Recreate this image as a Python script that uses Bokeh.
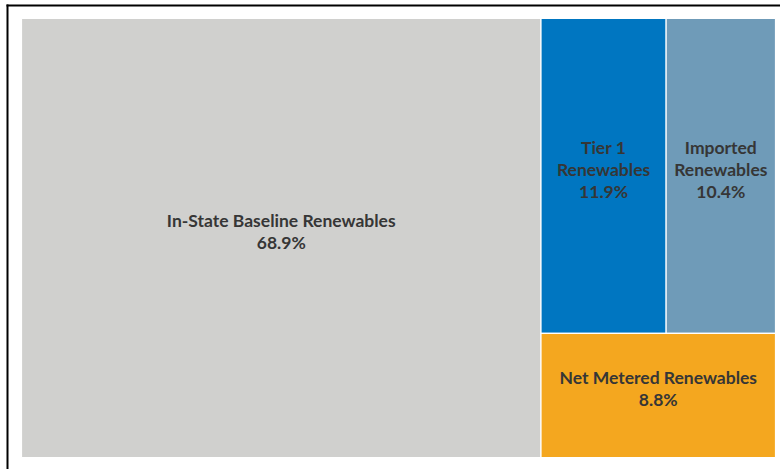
from bokeh.plotting import figure
from bokeh.models import Range1d, ColumnDataSource
from bokeh.core.properties import value
from bokeh.embed import file_html
from bokeh.resources import INLINE

# ---- data ----
categories = ["In-State Baseline Renewables", "Tier 1 Renewables",
              "Imported Renewables", "Net Metered Renewables"]
label_lines = [["In-State Baseline Renewables"], ["Tier 1", "Renewables"],
               ["Imported", "Renewables"], ["Net Metered Renewables"]]
shares = [68.9, 11.9, 10.4, 8.8]
colors = ["#d0d0ce", "#0076c1", "#6f9bb8", "#f4a71f"]

# ---- layout (screen-like coordinates, y grows downward) ----
X0, Y0, W, H = 21.0, 18.0, 754.0, 439.0


def worst(row, side):
    s = sum(row)
    return max(max(side * side * r / (s * s), (s * s) / (side * side * r)) for r in row)


def squarify(vals, x, y, w, h, limit=3.0):
    total = sum(vals)
    areas = [v / total * w * h for v in vals]
    rects = []
    while areas:
        side = min(w, h)
        row = [areas[0]]
        i = 1
        while i < len(areas) and worst(row + [areas[i]], side) <= limit:
            row.append(areas[i])
            i += 1
        areas = areas[i:]
        s = sum(row)
        if w >= h:
            cw = s / h
            cy = y
            for a in row:
                rh = a / cw
                rects.append((x, cy, cw, rh))
                cy += rh
            x += cw
            w -= cw
        else:
            rh = s / w
            cx = x
            for a in row:
                rw = a / rh
                rects.append((cx, y, rw, rh))
                cx += rw
            y += rh
            h -= rh
    return rects


rects = squarify(shares, X0, Y0, W, H)

p = figure(width=780, height=469, output_backend="svg", toolbar_location=None,
           x_range=Range1d(0, 780), y_range=Range1d(469, 0),
           min_border=0, outline_line_color=None)
p.axis.visible = False
p.grid.visible = False
p.background_fill_color = "white"
p.border_fill_color = "white"

src = ColumnDataSource(dict(
    left=[r[0] for r in rects], right=[r[0] + r[2] for r in rects],
    top=[r[1] for r in rects], bottom=[r[1] + r[3] for r in rects],
    color=colors, name=categories))
p.quad(left="left", right="right", top="top", bottom="bottom", source=src,
       fill_color="color", line_color="white", line_width=1.2)

# frame lines
p.segment(x0=[6, 7], y0=[5, 4], x1=[780, 7], y1=[5, 469], line_color="black", line_width=2)

# labels
tx, ty, tt, toff = [], [], [], []
LH = 22.0
for (x, y, w, h), lines, v in zip(rects, label_lines, shares):
    allines = lines + [f"{v:.1f}%"]
    n = len(allines)
    cx = x + w / 2
    cy = y + h / 2 - 6.5
    for k, t in enumerate(allines):
        tx.append(cx)
        ty.append(cy)
        tt.append(t)
        toff.append((k - (n - 1) / 2) * LH)
p.text(x=tx, y=ty, text=tt, y_offset=toff, text_align="center", text_baseline="middle",
       text_font=value("Lato"), text_font_style="bold", text_font_size="17.5px",
       text_color="#363636")

open("out.html", "w").write(file_html(p, INLINE))
